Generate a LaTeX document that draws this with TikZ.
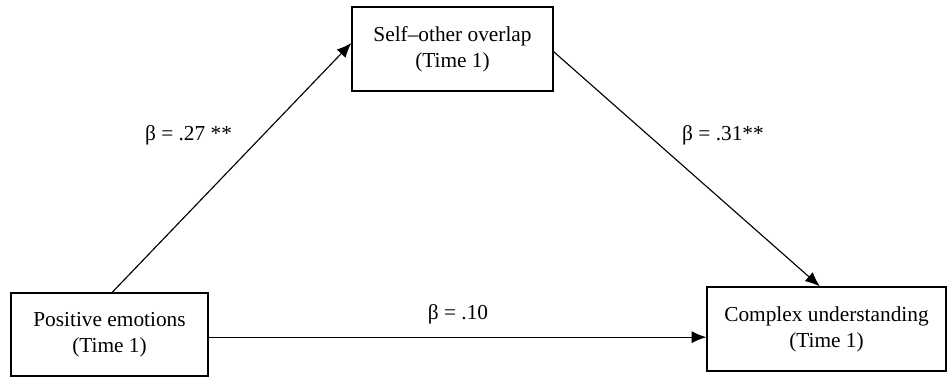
\documentclass[tikz,border=0pt]{standalone}
\usepackage{fontspec}
\setmainfont{Liberation Serif}
\usetikzlibrary{arrows.meta,calc}
\begin{document}
\begin{tikzpicture}[x=0.75pt,y=-0.75pt,
  box/.style={draw, line width=0.95pt, align=center, inner sep=0pt, font=\fontsize{16}{19.5}\selectfont},
  arr/.style={line width=0.85pt, -{Latex[length=11pt,width=9pt]}},
  lbl/.style={font=\fontsize{16}{19.5}\selectfont, inner sep=0pt}]
\useasboundingbox (0,0) rectangle (948,376);
\node[box, minimum width=150.75pt, minimum height=63pt] (so) at (452.5,49) {Self–other overlap\\(Time 1)};
\node[box, minimum width=147.75pt, minimum height=62.25pt] (pe) at (109.5,334.5) {Positive emotions\\(Time 1)};
\node[box, minimum width=179.25pt, minimum height=63pt] (cu) at (826.5,329) {Complex understanding\\(Time 1)};
\draw[arr] ([xshift=2pt]pe.north) -- ([yshift=4.5pt]so.west);
\draw[arr] ([yshift=-2pt]so.east) -- ([xshift=-5pt]cu.north);
\coordinate (h) at ([yshift=-2pt]pe.east);
\draw[arr] (h) -- (h -| cu.west);
\node[lbl] (l1) at (188.5,135) {β = .27 **};
\node[lbl] (l2) at (723,135) {β = .31**};
\node[lbl] (l3) at (458,314) {β = .10};
\end{tikzpicture}
\end{document}
